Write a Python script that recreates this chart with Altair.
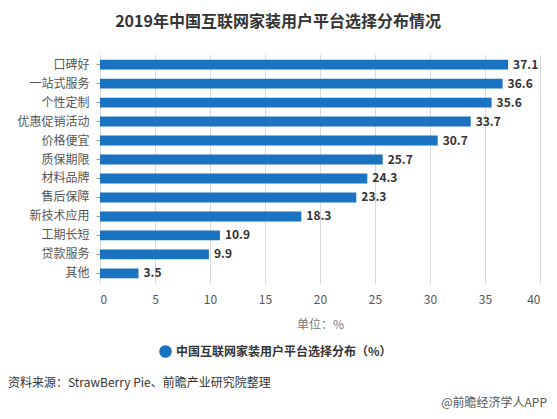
import altair as alt
import pandas as pd

categories = ["口碑好", "一站式服务", "个性定制", "优惠促销活动", "价格便宜", "质保期限",
              "材料品牌", "售后保障", "新技术应用", "工期长短", "贷款服务", "其他"]
values = [37.1, 36.6, 35.6, 33.7, 30.7, 25.7, 24.3, 23.3, 18.3, 10.9, 9.9, 3.5]
series_name = "中国互联网家装用户平台选择分布（%）"
x_ticks = [0, 5, 10, 15, 20, 25, 30, 35, 40]
title_text = "2019年中国互联网家装用户平台选择分布情况"
source_text = "资料来源：StrawBerry Pie、前瞻产业研究院整理"
brand_text = "@前瞻经济学人APP"

FONT = "Noto Sans CJK SC"
BLUE = "#1a73c0"

df = pd.DataFrame({"cat": categories, "val": values, "series": series_name})

base = alt.Chart(df)

bars = base.mark_bar(color=BLUE).encode(
    x=alt.X("val:Q",
            scale=alt.Scale(domain=[0, 40], nice=False),
            axis=alt.Axis(values=x_ticks, title="单位：%", grid=True, gridColor="#d9d9d9",
                          domain=False, ticks=False, labelPadding=10, labelFontSize=12,
                          labelColor="#555", titleFontSize=12, titleColor="#777",
                          titleFontWeight="normal", titlePadding=14, labelFont=FONT,
                          titleFont=FONT)),
    y=alt.Y("cat:N", sort=categories,
            scale=alt.Scale(paddingInner=0.48, paddingOuter=0.3),
            axis=alt.Axis(title=None, domain=False, ticks=True, tickSize=4, tickColor="#999",
                          labelPadding=7, labelFontSize=12, labelColor="#555",
                          labelFont=FONT)),
    fill=alt.Fill("series:N", scale=alt.Scale(range=[BLUE]),
                  legend=alt.Legend(title=None, orient="none", legendX=59, legendY=291,
                                    symbolType="circle", symbolSize=160,
                                    labelFontSize=12, labelFontWeight="bold",
                                    labelColor="#333", labelFont=FONT, labelLimit=500,
                                    symbolStrokeWidth=0)),
)

labels = base.mark_text(align="left", baseline="middle", dx=5, fontSize=12,
                        fontWeight="bold", color="#333", font=FONT).encode(
    x="val:Q",
    y=alt.Y("cat:N", sort=categories),
    text=alt.Text("val:Q", format=".1f"),
)

source = alt.Chart(pd.DataFrame({"t": [source_text]})).mark_text(
    align="left", baseline="middle", fontSize=12, color="#333", font=FONT).encode(
    x=alt.value(-92), y=alt.value(329), text="t:N")
brand = alt.Chart(pd.DataFrame({"t": [brand_text]})).mark_text(
    align="right", baseline="middle", fontSize=12, color="#555", font=FONT).encode(
    x=alt.value(447), y=alt.value(349), text="t:N")

chart = alt.layer(bars, labels, source, brand).properties(
    width=440, height=230,
    autosize=alt.AutoSizeParams(type="none"),
    padding={"left": 92, "top": 46, "right": 9, "bottom": 127},
    title=alt.TitleParams(title_text, anchor="middle", dx=-42, offset=24, fontSize=16,
                          fontWeight="bold", color="#333", font=FONT),
).configure_view(stroke=None)

chart.save("out.html", embed_options={"renderer": "svg", "actions": False})
